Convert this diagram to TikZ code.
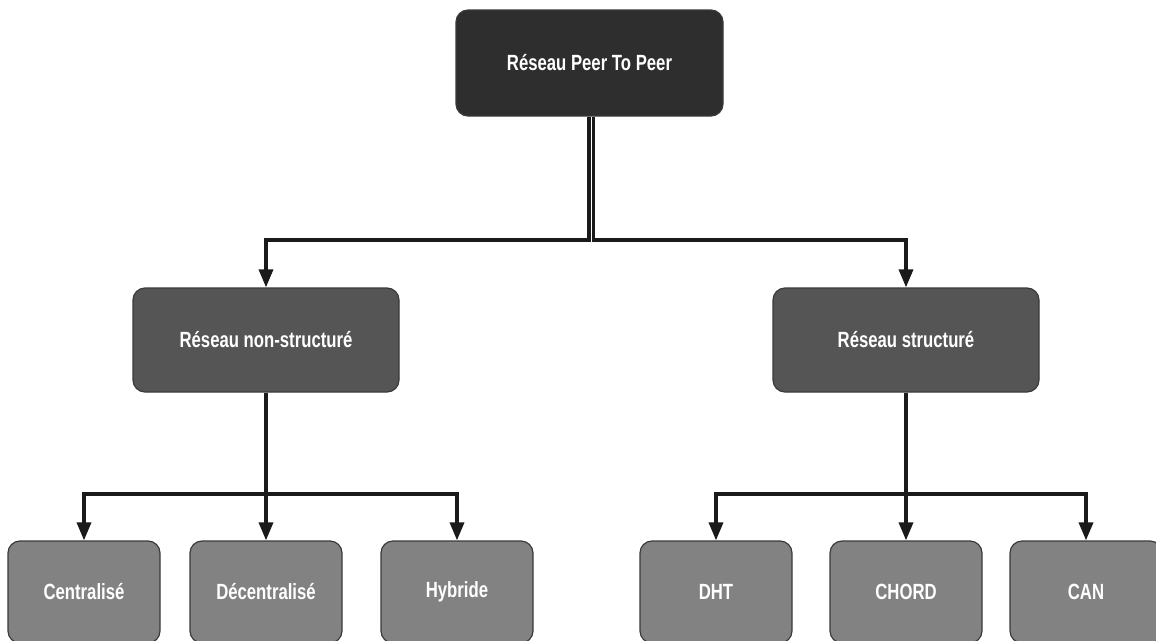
\documentclass[tikz,border=0pt]{standalone}
\usepackage{fontspec}
\usetikzlibrary{arrows.meta}
\newfontfamily\boxfont{Liberation Sans}[FakeStretch=0.76]
\definecolor{rootfill}{HTML}{2E2E2E}
\definecolor{midfill}{HTML}{555555}
\definecolor{leaffill}{HTML}{828282}
\definecolor{edgegray}{HTML}{3A3A3A}
\definecolor{linkcol}{HTML}{1A1A1A}
\tikzset{
  box/.style={draw=edgegray, line width=1.2pt, rounded corners=12pt,
    text=white, inner sep=0pt, align=center,
    font=\boxfont\bfseries\fontsize{22}{26}\selectfont},
  rootbox/.style={box, fill=rootfill, minimum width=267pt, minimum height=106pt},
  midbox/.style={box, fill=midfill, minimum width=266pt, minimum height=104pt},
  leafbox/.style={box, fill=leaffill, minimum width=152pt, minimum height=102pt},
  conn/.style={draw=linkcol, line width=3.4pt,
    -{Triangle[width=14pt,length=18pt]}},
}
\begin{document}
\begin{tikzpicture}[x=1pt,y=-1pt]
\useasboundingbox (0,0) rectangle (1156,640);
\clip (0,0) rectangle (1156,640);
\fill[white] (0,0) rectangle (1156,640);

% levels of the tree
\coordinate (busTop) at (0,240);
\coordinate (busLow) at (0,494);

% connectors first, boxes drawn on top
\node[rootbox] (root) at (589.5,63) {Réseau Peer To Peer};
\node[midbox] (ns) at (266,340) {Réseau non-structuré};
\node[midbox] (st) at (906,340) {Réseau structuré};
\node[leafbox] (cen) at (84,592) {Centralisé};
\node[leafbox] (dec) at (266,592) {Décentralisé};
\node[leafbox] (hyb) at (457,592) {Hybride};
\node[leafbox] (dht) at (716,592) {DHT};
\node[leafbox] (chord) at (906,592) {CHORD};
\node[leafbox] (can) at (1086,592) {CAN};

% root to the two network families
\draw[conn] ([xshift=-0.5pt]root.south) -- ([xshift=-0.5pt]root.south |- busTop) -| (ns.north);
\draw[conn] ([xshift=3.8pt]root.south) -- ([xshift=3.8pt]root.south |- busTop) -| (st.north);

% unstructured family
\draw[conn] (ns.south) -- (ns.south |- busLow) -| (cen.north);
\draw[conn] (ns.south) -- (dec.north);
\draw[conn] (ns.south) -- (ns.south |- busLow) -| (hyb.north);

% structured family
\draw[conn] (st.south) -- (st.south |- busLow) -| (dht.north);
\draw[conn] (st.south) -- (chord.north);
\draw[conn] (st.south) -- (st.south |- busLow) -| (can.north);
\end{tikzpicture}
\end{document}
